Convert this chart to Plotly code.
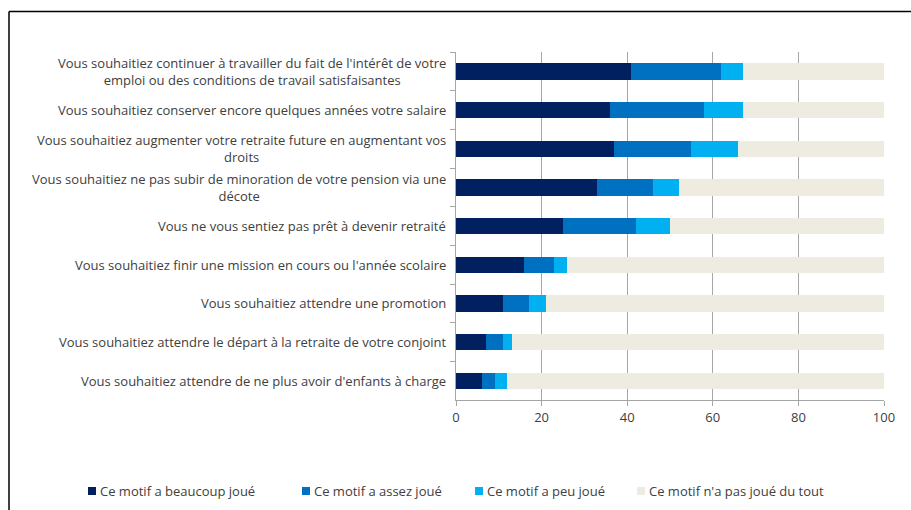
import plotly.graph_objects as go

# Motifs (top to bottom)
motifs = [
    "Vous souhaitiez continuer à travailler du fait de l'intérêt de votre<br>emploi ou des conditions de travail satisfaisantes",
    "Vous souhaitiez conserver encore quelques années votre salaire",
    "Vous souhaitiez augmenter votre retraite future en augmentant vos<br>droits",
    "Vous souhaitiez ne pas subir de minoration de votre pension via une<br>décote",
    "Vous ne vous sentiez pas prêt à devenir retraité",
    "Vous souhaitiez finir une mission en cours ou l'année scolaire",
    "Vous souhaitiez attendre une promotion",
    "Vous souhaitiez attendre le départ à la retraite de votre conjoint",
    "Vous souhaitiez attendre de ne plus avoir d'enfants à charge",
]

# Shares (%) per answer
beaucoup = [41, 36, 37, 33, 25, 16, 11, 7, 6]
assez = [21, 22, 18, 13, 17, 7, 6, 4, 3]
peu = [5, 9, 11, 6, 8, 3, 4, 2, 3]
pas_du_tout = [33, 33, 34, 48, 50, 74, 79, 87, 88]

series_names = [
    "Ce motif a beaucoup joué",
    "Ce motif a assez joué",
    "Ce motif a peu joué",
    "Ce motif n'a pas joué du tout",
]
series_values = [beaucoup, assez, peu, pas_du_tout]
series_colors = ["#002060", "#0070C0", "#00B0F0", "#EEECE1"]

x_ticks = [0, 20, 40, 60, 80, 100]

W, H = 911, 510
ML, MR, MT, MB = 456, 27, 52, 110
PW, PH = W - ML - MR, H - MT - MB

FONT = "Open Sans"
FS = 13
TXT = "#404040"
GRID = "#A6A6A6"

fig = go.Figure()
for name, vals, col in zip(series_names, series_values, series_colors):
    fig.add_trace(go.Bar(
        y=motifs, x=vals, name=name, orientation="h",
        marker=dict(color=col, line=dict(width=0)),
        showlegend=False,
    ))


def px_x(px):
    return (px - ML) / PW


def px_y(py):
    return (H - MB - py) / PH


annotations = []
for m in motifs:
    annotations.append(dict(
        x=0, xref="paper", y=m, yref="y", text=m, showarrow=False,
        xanchor="right", yanchor="middle", align="center", xshift=-8,
        font=dict(family=FONT, size=FS, color=TXT),
    ))

# Legend drawn as squares with labels
shapes = []
legend_x = [88, 302, 475, 637]
legend_y = 491
for lx, name, col in zip(legend_x, series_names, series_colors):
    shapes.append(dict(
        type="rect", xref="paper", yref="paper",
        x0=px_x(lx), x1=px_x(lx + 8), y0=px_y(legend_y + 4), y1=px_y(legend_y - 4),
        fillcolor=col, line=dict(width=0),
    ))
    annotations.append(dict(
        x=px_x(lx + 10), xref="paper", y=px_y(legend_y), yref="paper",
        text=name, showarrow=False, xanchor="left", yanchor="middle",
        font=dict(family=FONT, size=FS, color=TXT),
    ))

# Outer frame (top and left edges)
shapes.append(dict(
    type="line", xref="paper", yref="paper",
    x0=px_x(9), x1=px_x(W + 5), y0=px_y(11.5), y1=px_y(11.5),
    line=dict(color="#000000", width=1.5),
))
shapes.append(dict(
    type="line", xref="paper", yref="paper",
    x0=px_x(9), x1=px_x(9), y0=px_y(11.5), y1=px_y(H + 5),
    line=dict(color="#000000", width=1.5),
))

fig.update_layout(
    width=W, height=H,
    margin=dict(l=ML, r=MR, t=MT, b=MB, autoexpand=False),
    barmode="stack", bargap=0.58,
    plot_bgcolor="white", paper_bgcolor="white",
    font=dict(family=FONT, size=FS, color=TXT),
    annotations=annotations, shapes=shapes,
    xaxis=dict(
        range=[0, 100], tickvals=x_ticks, showgrid=True, gridcolor=GRID,
        gridwidth=1, showline=True, linecolor=GRID, linewidth=1,
        ticks="outside", ticklen=5, tickcolor=GRID, zeroline=False,
        tickfont=dict(family=FONT, size=FS, color=TXT),
    ),
    yaxis=dict(
        categoryorder="array", categoryarray=motifs, autorange="reversed",
        showticklabels=False, showline=True, linecolor=GRID, linewidth=1,
        ticks="outside", tickson="boundaries", ticklen=5, tickcolor=GRID,
        showgrid=False,
    ),
)

fig.write_html("out.html")
